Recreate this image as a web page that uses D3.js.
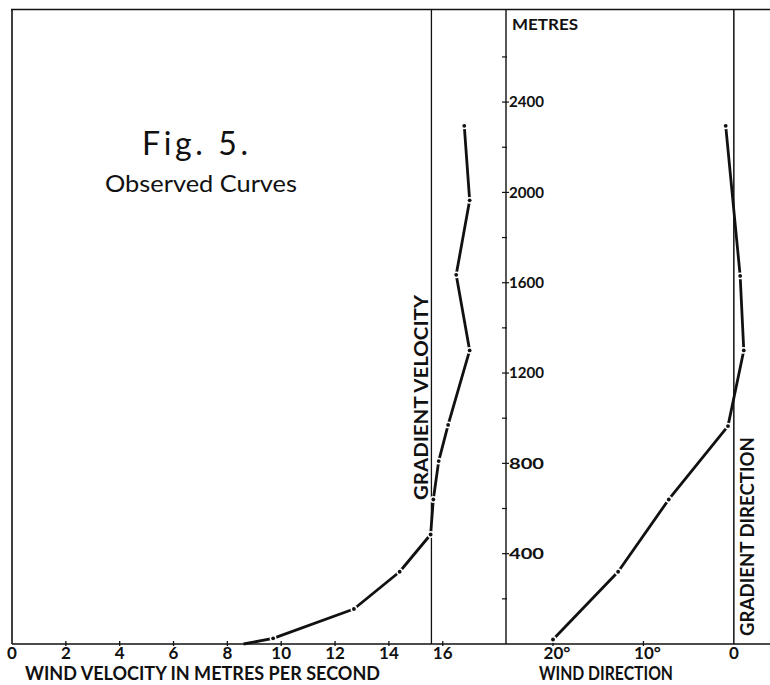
<!DOCTYPE html>
<html>
<head>
<meta charset="utf-8">
<script src="https://cdn.jsdelivr.net/npm/d3@7"></script>
<style>
  body { margin: 0; background: #fff; }
  text { font-family: Lato, "Open Sans", sans-serif; fill: #111; }
</style>
</head>
<body>
<svg id="chart"></svg>
<script>
const velHeights = [0, 25, 155, 320, 485, 640, 810, 970, 1300, 1635, 1965, 2295];
const velocity   = [8.6, 9.7, 12.7, 14.4, 15.55, 15.65, 15.85, 16.2, 17.0, 16.5, 17.0, 16.8];
const dirHeights = [20, 320, 640, 965, 1300, 1630, 2295];
const direction  = [20.0, 12.8, 7.2, 0.65, -1.1, -0.7, 0.9];
const gradientVelocity = 15.58;
const gradientDirection = 0;

const velTicks = [0, 2, 4, 6, 8, 10, 12, 14, 16];
const dirTicks = [20, 10, 0];
const dirTickLabels = ['20°', '10°', '0'];
const heightTicks = [400, 800, 1200, 1600, 2000, 2400];
const heightMinor = [200, 600, 1000, 1400, 1800, 2200, 2600];

const W = 770, H = 685;
const svg = d3.select('#chart').attr('width', W).attr('height', H);

const y = d3.scaleLinear().domain([0, 2810]).range([644, 9.5]);
const xV = d3.scaleLinear().domain([0, 18.35]).range([12, 506]);
const xD = d3.scaleLinear().domain([25.2, -4]).range([506, 770]);

const ink = '#111';

// frame
svg.append('line').attr('x1', 12).attr('x2', W).attr('y1', y(0)).attr('y2', y(0))
  .attr('stroke', ink).attr('stroke-width', 1.6);
svg.append('line').attr('x1', 11).attr('x2', W).attr('y1', y(2810)).attr('y2', y(2810))
  .attr('stroke', ink).attr('stroke-width', 1.6);
svg.append('line').attr('x1', xV(0)).attr('x2', xV(0)).attr('y1', y(2810)).attr('y2', y(0))
  .attr('stroke', ink).attr('stroke-width', 1.6);
// height axis between the panels
svg.append('line').attr('x1', 506).attr('x2', 506).attr('y1', y(2810)).attr('y2', y(0))
  .attr('stroke', ink).attr('stroke-width', 1.4);

// gradient lines
svg.append('line').attr('x1', xV(gradientVelocity)).attr('x2', xV(gradientVelocity))
  .attr('y1', y(2810)).attr('y2', y(0)).attr('stroke', ink).attr('stroke-width', 1.3);
svg.append('line').attr('x1', xD(gradientDirection)).attr('x2', xD(gradientDirection))
  .attr('y1', y(2810)).attr('y2', y(0)).attr('stroke', ink).attr('stroke-width', 1.5);

// height ticks + labels
svg.selectAll('.hmaj').data(heightTicks).join('line')
  .attr('x1', 502).attr('x2', 509).attr('y1', d => y(d)).attr('y2', d => y(d))
  .attr('stroke', ink).attr('stroke-width', 1.2);
svg.selectAll('.hmin').data(heightMinor).join('line')
  .attr('x1', 502).attr('x2', 507).attr('y1', d => y(d)).attr('y2', d => y(d))
  .attr('stroke', ink).attr('stroke-width', 1.2);
svg.selectAll('.hlab').data(heightTicks).join('text')
  .attr('x', 509).attr('y', d => y(d)).attr('dy', '0.36em')
  .attr('font-size', 15).attr('font-weight', 'bold')
  .attr('textLength', 35).attr('lengthAdjust', 'spacingAndGlyphs')
  .text(d => d);
svg.append('text').attr('x', 512).attr('y', 30).attr('font-size', 16).attr('font-weight', 'bold')
  .attr('textLength', 66).attr('lengthAdjust', 'spacingAndGlyphs').text('METRES');

// bottom ticks
svg.selectAll('.vt').data(velTicks.filter(d => d > 0)).join('line')
  .attr('x1', d => xV(d)).attr('x2', d => xV(d)).attr('y1', y(0) - 3).attr('y2', y(0) + 2)
  .attr('stroke', ink).attr('stroke-width', 1.3);
svg.selectAll('.vl').data(velTicks).join('text')
  .attr('x', d => xV(d)).attr('y', 659).attr('text-anchor', 'middle')
  .attr('font-size', 17).attr('font-weight', 'bold').text(d => d);
svg.selectAll('.dt').data(dirTicks.filter(d => d > 0)).join('line')
  .attr('x1', d => xD(d)).attr('x2', d => xD(d)).attr('y1', y(0) - 3).attr('y2', y(0) + 2)
  .attr('stroke', ink).attr('stroke-width', 1.3);
svg.selectAll('.dl').data(dirTicks).join('text')
  .attr('x', (d, i) => xD(d) + (i < 2 ? 4 : 0)).attr('y', 659).attr('text-anchor', 'middle')
  .attr('font-size', 17).attr('font-weight', 'bold').text((d, i) => dirTickLabels[i]);

// axis titles
svg.append('text').attr('x', 25).attr('y', 680).attr('font-size', 18).attr('font-weight', 'bold')
  .attr('textLength', 355).attr('lengthAdjust', 'spacingAndGlyphs')
  .text('WIND VELOCITY IN METRES PER SECOND');
svg.append('text').attr('x', 539).attr('y', 680).attr('font-size', 18).attr('font-weight', 'bold')
  .attr('textLength', 134).attr('lengthAdjust', 'spacingAndGlyphs')
  .text('WIND DIRECTION');

svg.append('text').attr('transform', 'translate(428,500) rotate(-90)')
  .attr('font-size', 18).attr('font-weight', 'bold')
  .attr('textLength', 205).attr('lengthAdjust', 'spacingAndGlyphs')
  .text('GRADIENT VELOCITY');
svg.append('text').attr('transform', 'translate(754,636) rotate(-90)')
  .attr('font-size', 18).attr('font-weight', 'bold')
  .attr('textLength', 199).attr('lengthAdjust', 'spacingAndGlyphs')
  .text('GRADIENT DIRECTION');

// title
svg.append('text').attr('x', 142).attr('y', 155).attr('font-size', 32)
  .attr('textLength', 106).attr('lengthAdjust', 'spacing').text('Fig. 5.');
svg.append('text').attr('x', 105).attr('y', 192).attr('font-size', 24)
  .attr('textLength', 192).attr('lengthAdjust', 'spacingAndGlyphs').text('Observed Curves');

// curves
const velPts = velHeights.map((h, i) => ({ x: xV(velocity[i]), y: y(h) }));
const dirPts = dirHeights.map((h, i) => ({ x: xD(direction[i]), y: y(h) }));
const line = d3.line().x(d => d.x).y(d => d.y);

[velPts, dirPts].forEach((pts, k) => {
  svg.append('path').attr('d', line(pts)).attr('fill', 'none')
    .attr('stroke', ink).attr('stroke-width', 2.8).attr('stroke-linejoin', 'round');
  const dots = pts.filter((d, i) => !(k === 0 && i === 0));
  svg.selectAll(null).data(dots).join('circle')
    .attr('cx', d => d.x).attr('cy', d => d.y).attr('r', 3.4).attr('fill', '#fff');
  svg.selectAll(null).data(dots).join('circle')
    .attr('cx', d => d.x).attr('cy', d => d.y).attr('r', 1.9).attr('fill', ink);
});
</script>
</body>
</html>
